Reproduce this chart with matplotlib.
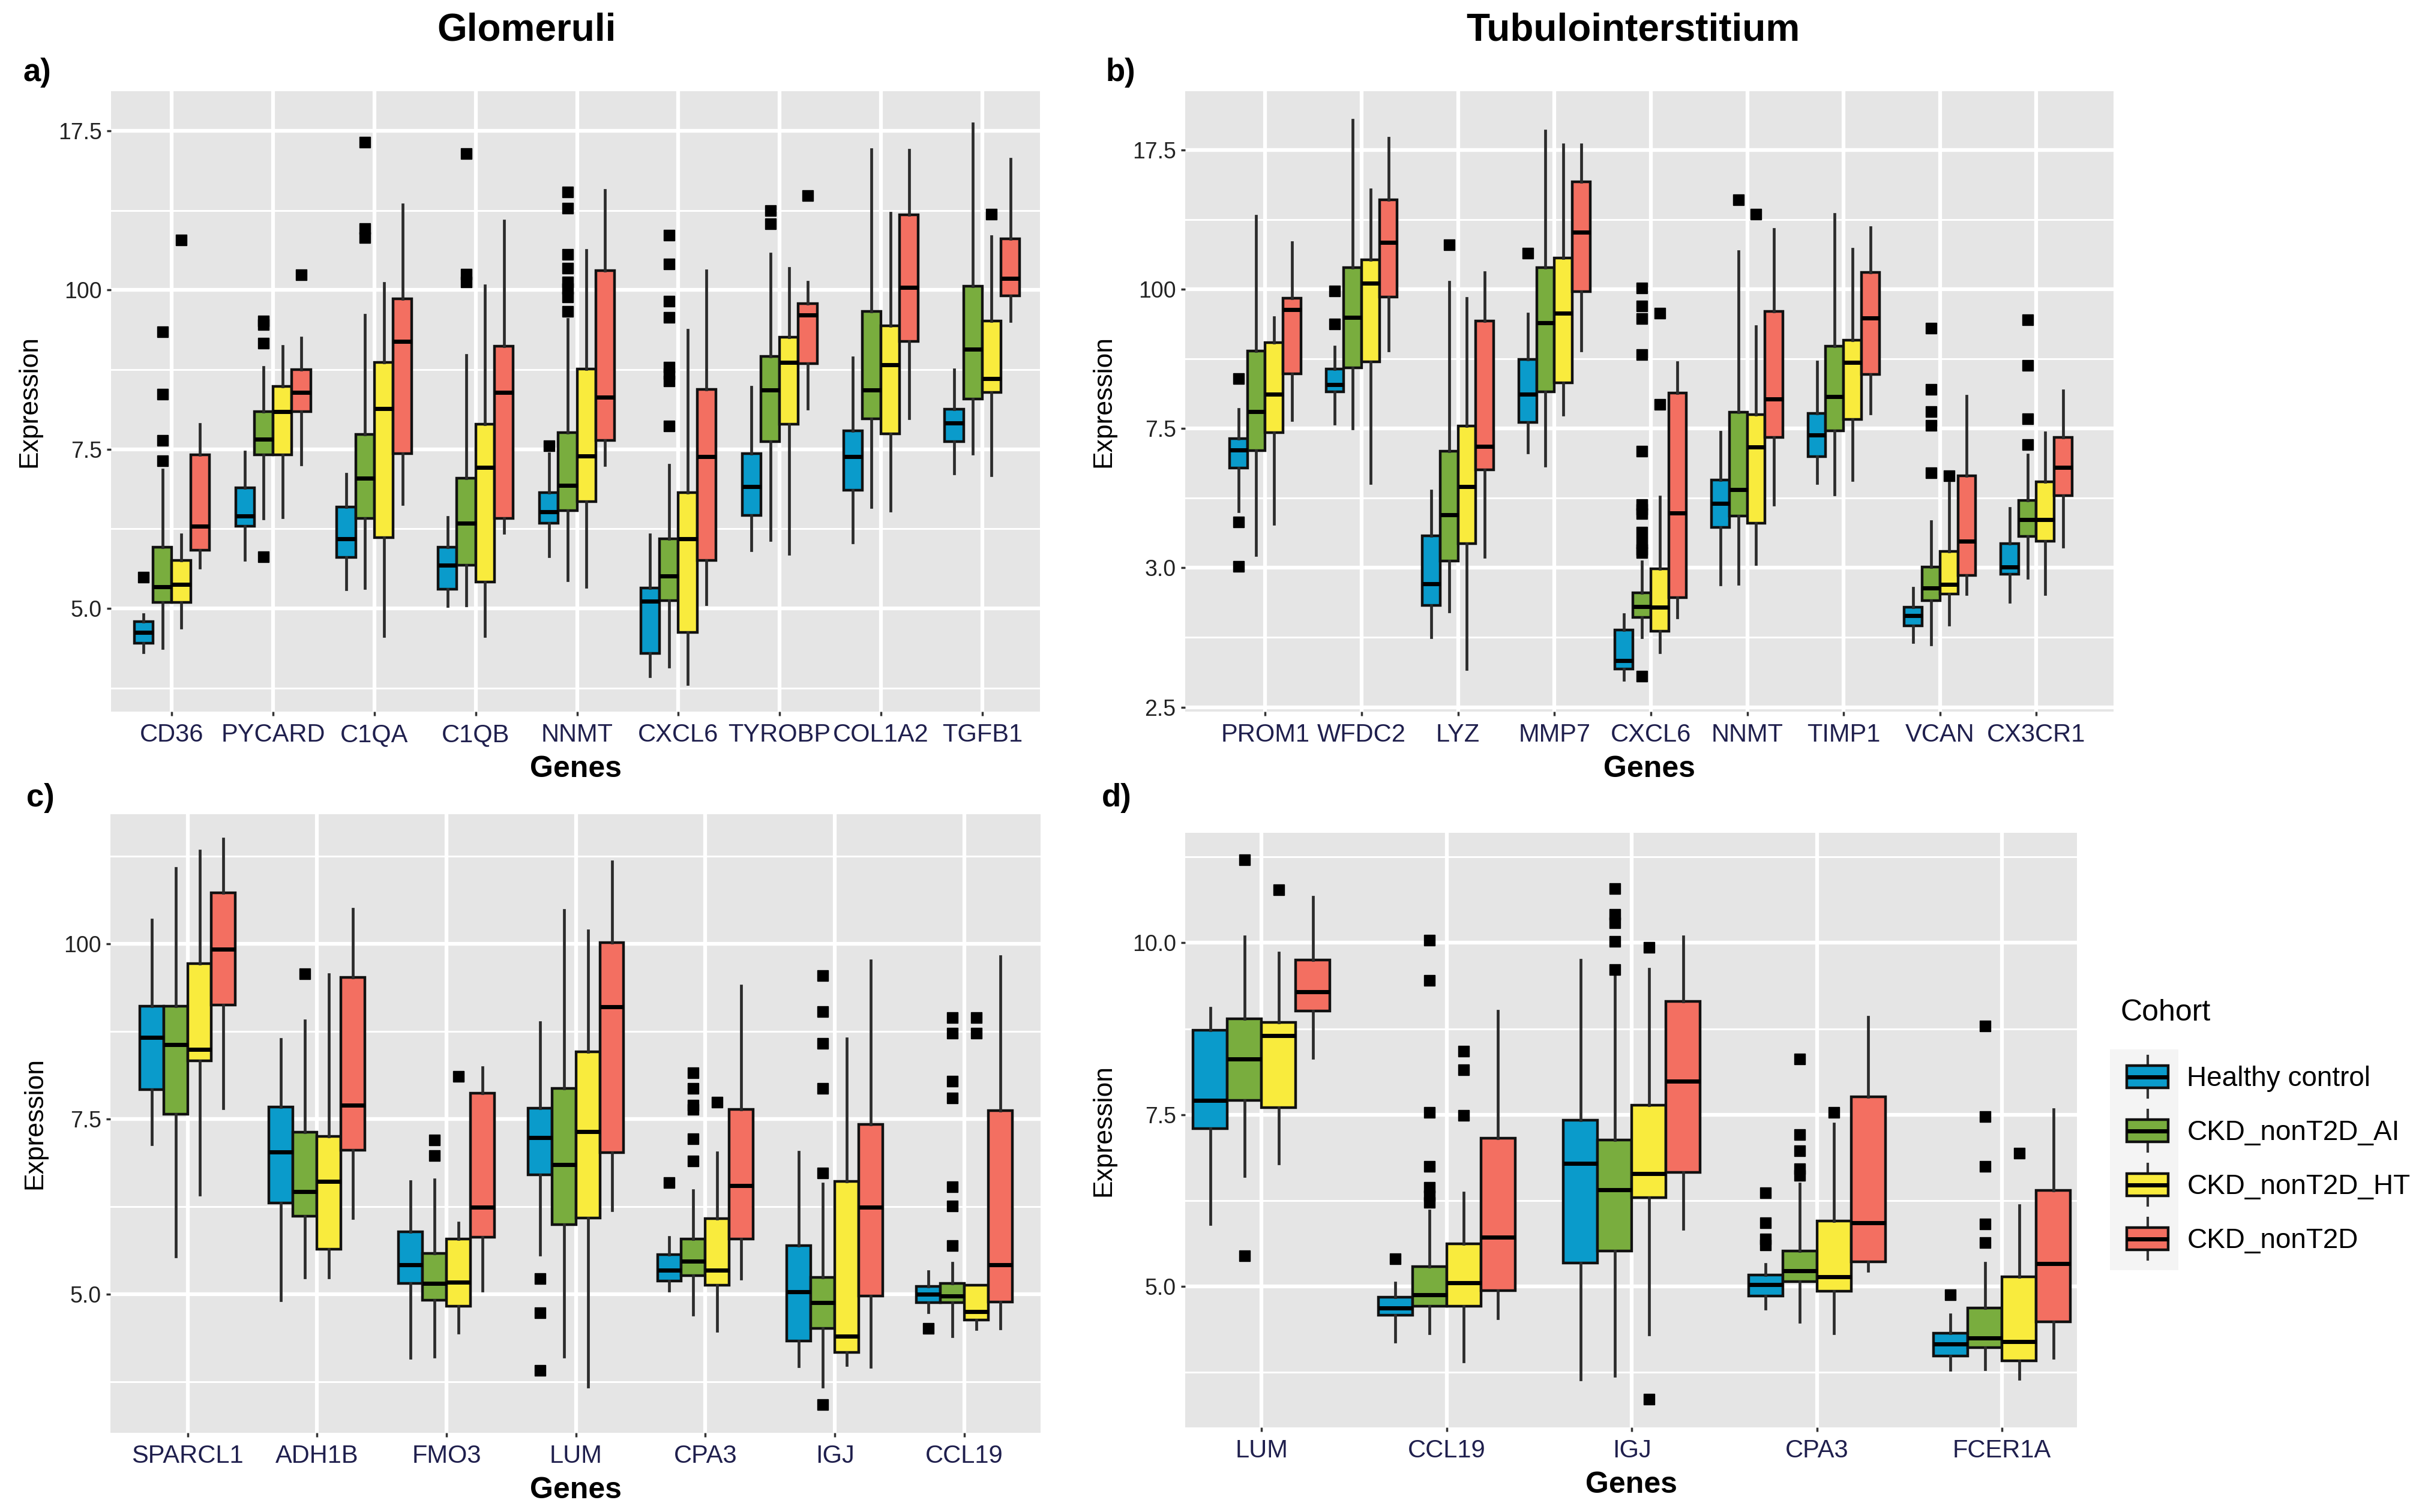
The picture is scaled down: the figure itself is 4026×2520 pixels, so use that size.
import matplotlib
matplotlib.use("Agg")
import matplotlib.pyplot as plt
from matplotlib.patches import Rectangle, Patch
from matplotlib.lines import Line2D
from matplotlib.legend_handler import HandlerBase

plt.rcParams['font.family'] = ['Liberation Sans', 'DejaVu Sans']

# ---------------- data ----------------
COHORTS = ["Healthy control", "CKD_nonT2D_AI", "CKD_nonT2D_HT", "CKD_nonT2D"]
COLORS = ["#0A9BCB", "#79AD3E", "#F9EB3D", "#F36F61"]

# each tuple: (whisker low, Q1, median, Q3, whisker high)
# ---- panel a: Glomeruli ----
A_GENES = ["CD36", "PYCARD", "C1QA", "C1QB", "NNMT", "CXCL6", "TYROBP", "COL1A2", "TGFB1"]
A_HEALTHY = [(4.31, 4.45, 4.62, 4.79, 4.91), (5.76, 6.29, 6.45, 6.89, 7.46), (5.30, 5.80, 6.09, 6.59, 7.11),
             (5.04, 5.30, 5.68, 5.96, 6.43), (5.82, 6.34, 6.52, 6.82, 7.43), (3.94, 4.29, 5.11, 5.32, 6.16),
             (5.91, 6.46, 6.91, 7.43, 8.48), (6.04, 6.86, 7.38, 7.79, 8.94), (7.12, 7.62, 7.91, 8.13, 8.75)]
A_AI = [(4.38, 5.09, 5.34, 5.96, 7.18), (6.41, 7.41, 7.66, 8.09, 8.79), (5.32, 6.41, 7.04, 7.73, 9.61),
        (5.05, 5.68, 6.34, 7.04, 8.98), (5.44, 6.54, 6.93, 7.76, 9.54), (4.09, 5.12, 5.51, 6.09, 7.25),
        (6.07, 7.62, 8.43, 8.96, 10.57), (6.59, 7.98, 8.43, 9.66, 12.21), (7.43, 8.29, 9.07, 10.06, 12.61)]
A_HT = [(4.70, 5.09, 5.38, 5.75, 6.16), (6.43, 7.41, 8.09, 8.49, 9.12), (4.57, 6.11, 8.14, 8.86, 10.11),
        (4.57, 5.41, 7.21, 7.89, 10.07), (5.34, 6.68, 7.39, 8.76, 10.62), (3.81, 4.62, 6.09, 6.82, 9.37),
        (5.86, 7.89, 8.86, 9.26, 10.34), (6.54, 7.74, 8.82, 9.44, 11.21), (7.09, 8.39, 8.61, 9.51, 10.84)]
A_NONT2D = [(5.64, 5.91, 6.29, 7.41, 7.89), (7.26, 8.09, 8.39, 8.75, 9.25), (6.64, 7.43, 9.19, 9.86, 11.34),
            (6.19, 6.41, 8.39, 9.12, 11.09), (7.25, 7.64, 8.32, 10.30, 11.57), (5.07, 5.75, 7.38, 8.44, 10.30),
            (8.14, 8.84, 9.61, 9.79, 10.12), (7.99, 9.19, 10.04, 11.18, 12.20), (9.51, 9.91, 10.18, 10.80, 12.06)]
A_HEALTHY_OUT = [[5.49], [], [], [], [7.55], [], [], [], []]
A_AI_OUT = [[7.32, 7.64, 8.36, 9.34], [5.81, 9.16, 9.46, 9.51], [10.82, 10.96, 12.32], [10.12, 10.25, 12.14],
            [9.66, 9.89, 10.02, 10.12, 10.34, 10.56, 11.28, 11.54],
            [7.86, 8.57, 8.68, 8.79, 9.57, 9.82, 10.41, 10.86], [11.04, 11.25], [], []]
A_HT_OUT = [[10.78], [], [], [], [], [], [], [], [11.19]]
A_NONT2D_OUT = [[], [10.24], [], [], [], [], [11.48], [], []]
A_YTICKS = [5.0, 7.5, 10.0, 12.5]
A_YTICKLABELS = ["5.0", "7.5", "100", "17.5"]

# ---- panel b: Tubulointerstitium ----
B_GENES = ["PROM1", "WFDC2", "LYZ", "MMP7", "CXCL6", "NNMT", "TIMP1", "VCAN", "CX3CR1"]
B_HEALTHY = [(6.01, 6.79, 7.11, 7.32, 7.85), (7.59, 8.16, 8.29, 8.57, 8.96), (3.75, 4.33, 4.71, 5.57, 6.38),
             (7.07, 7.61, 8.11, 8.74, 9.56), (2.99, 3.18, 3.34, 3.88, 4.16), (4.70, 5.72, 6.16, 6.57, 7.44),
             (6.52, 6.99, 7.38, 7.77, 8.70), (3.67, 3.96, 4.14, 4.29, 4.64), (4.39, 4.88, 5.01, 5.43, 6.07)]
B_AI = [(5.23, 7.10, 7.80, 8.89, 11.31), (7.50, 8.59, 9.49, 10.39, 13.03), (4.22, 5.12, 5.95, 7.09, 10.13),
        (6.83, 8.16, 9.39, 10.39, 12.84), (3.75, 4.11, 4.30, 4.55, 5.11), (4.71, 5.93, 6.40, 7.79, 10.68),
        (6.32, 7.46, 8.07, 8.98, 11.34), (3.63, 4.41, 4.64, 5.01, 5.83), (4.82, 5.56, 5.86, 6.21, 7.03)]
B_HT = [(5.79, 7.43, 8.11, 9.04, 9.49), (6.52, 8.70, 10.11, 10.52, 11.79), (3.18, 5.43, 6.46, 7.54, 9.84),
        (7.75, 8.32, 9.57, 10.56, 12.59), (3.49, 3.86, 4.29, 4.98, 6.27), (5.07, 5.80, 7.17, 7.75, 9.33),
        (6.57, 7.66, 8.69, 9.08, 10.72), (3.98, 4.53, 4.70, 5.29, 6.52), (4.53, 5.48, 5.86, 6.54, 7.43)]
B_NONT2D = [(7.65, 8.48, 9.63, 9.84, 10.84), (8.90, 9.86, 10.84, 11.60, 12.71), (5.20, 6.76, 7.18, 9.43, 10.30),
            (8.90, 9.96, 11.02, 11.93, 12.59), (4.11, 4.47, 5.98, 8.14, 8.69), (6.13, 7.34, 8.03, 9.60, 11.07),
            (7.77, 8.47, 9.48, 10.30, 11.11), (4.53, 4.86, 5.48, 6.65, 8.08), (5.38, 6.30, 6.80, 7.34, 8.18)]
B_HEALTHY_OUT = [[5.02, 5.82, 8.39], [9.37, 9.97], [], [10.64], [], [], [], [], []]
B_AI_OUT = [[], [], [10.79], [],
            [3.06, 5.27, 5.33, 5.45, 5.64, 5.97, 6.05, 6.13, 7.09, 8.82, 9.47, 9.70, 10.02],
            [11.60], [], [6.70, 7.55, 7.80, 8.20, 9.30], [7.21, 7.67, 8.63, 9.45]]
B_HT_OUT = [[], [], [], [], [7.93, 9.57], [11.34], [], [6.65], []]
B_NONT2D_OUT = [[], [], [], [], [], [], [], [], []]
B_YTICKS = [2.5, 5.0, 7.5, 10.0, 12.5]
B_YTICKLABELS = ["2.5", "3.0", "7.5", "100", "17.5"]

# ---- panel c: Glomeruli ----
C_GENES = ["SPARCL1", "ADH1B", "FMO3", "LUM", "CPA3", "IGJ", "CCL19"]
C_HEALTHY = [(7.14, 7.92, 8.66, 9.11, 10.34), (4.91, 6.30, 7.03, 7.67, 8.64), (4.09, 5.15, 5.42, 5.89, 6.61),
             (5.56, 6.70, 7.23, 7.65, 8.88), (5.05, 5.19, 5.34, 5.56, 5.81), (3.97, 4.33, 5.03, 5.69, 7.03),
             (4.74, 4.88, 5.00, 5.11, 5.32)]
C_AI = [(5.54, 7.57, 8.56, 9.11, 11.08), (5.24, 6.11, 6.46, 7.31, 8.90), (4.11, 4.91, 5.15, 5.58, 6.63),
        (4.11, 5.99, 6.85, 7.94, 10.48), (4.71, 5.26, 5.47, 5.79, 6.48), (3.68, 4.51, 4.88, 5.24, 6.57),
        (4.40, 4.88, 4.97, 5.15, 5.44)]
C_HT = [(6.42, 8.33, 8.49, 9.72, 11.33), (5.24, 5.64, 6.61, 7.25, 9.56), (4.45, 4.83, 5.17, 5.79, 6.02),
        (3.68, 6.09, 7.32, 8.46, 10.19), (4.48, 5.13, 5.34, 6.08, 7.02), (3.99, 4.17, 4.40, 6.61, 8.65),
        (4.50, 4.63, 4.75, 5.13, 5.13)]
C_NONT2D = [(7.65, 9.13, 9.92, 10.73, 11.50), (6.09, 7.05, 7.70, 9.52, 10.50), (5.05, 5.81, 6.24, 7.87, 8.24),
            (6.20, 7.02, 9.10, 10.02, 11.17), (5.22, 5.79, 6.55, 7.64, 9.40), (3.96, 4.97, 6.24, 7.42, 9.76),
            (4.51, 4.89, 5.42, 7.62, 9.82)]
C_HEALTHY_OUT = [[], [], [], [3.91, 4.73, 5.22], [6.59], [], [4.51]]
C_AI_OUT = [[], [9.57], [6.98, 7.20], [], [6.90, 7.22, 7.64, 7.70, 7.94, 8.16],
            [3.42, 6.73, 7.94, 8.58, 9.03, 9.55], [5.69, 6.26, 6.53, 7.80, 8.04, 8.72, 8.95]]
C_HT_OUT = [[], [], [8.11], [], [7.74], [], [8.72, 8.95]]
C_NONT2D_OUT = [[], [], [], [], [], [], []]
C_YTICKS = [5.0, 7.5, 10.0]
C_YTICKLABELS = ["5.0", "7.5", "100"]

# ---- panel d: Tubulointerstitium ----
D_GENES = ["LUM", "CCL19", "IGJ", "CPA3", "FCER1A"]
D_HEALTHY = [(5.91, 7.30, 7.71, 8.73, 9.05), (4.20, 4.58, 4.69, 4.84, 5.05), (3.65, 5.34, 6.79, 7.42, 9.75),
             (4.68, 4.86, 5.03, 5.17, 5.32), (3.79, 3.99, 4.16, 4.32, 4.59)]
D_AI = [(6.61, 7.71, 8.31, 8.89, 10.09), (4.32, 4.71, 4.88, 5.29, 6.10), (3.70, 5.52, 6.41, 7.13, 9.52),
        (4.49, 5.07, 5.23, 5.52, 6.49), (3.80, 4.11, 4.25, 4.69, 5.34)]
D_HT = [(6.79, 7.60, 8.65, 8.84, 9.85), (3.91, 4.71, 5.05, 5.62, 6.36), (4.30, 6.29, 6.64, 7.64, 9.62),
        (4.32, 4.93, 5.14, 5.95, 7.37), (3.66, 3.92, 4.20, 5.14, 6.18)]
D_NONT2D = [(8.33, 9.01, 9.29, 9.75, 10.67), (4.54, 4.94, 5.72, 7.16, 9.01), (5.84, 6.66, 7.99, 9.15, 10.09),
            (5.23, 5.36, 5.93, 7.76, 8.92), (3.96, 4.49, 5.33, 6.40, 7.58)]
D_HEALTHY_OUT = [[], [5.40], [], [5.60, 5.69, 5.93, 6.36], [4.88]]
D_AI_OUT = [[5.45, 11.21], [6.22, 6.32, 6.44, 6.75, 7.53, 9.45, 10.04], [9.61, 10.02, 10.29, 10.41, 10.79],
            [6.62, 6.71, 6.97, 7.21, 8.31], [5.64, 5.91, 6.75, 7.47, 8.79]]
D_HT_OUT = [[10.77], [7.49, 8.15, 8.42], [3.36, 9.93], [7.53], [6.94]]
D_NONT2D_OUT = [[], [], [], [], []]
D_YTICKS = [5.0, 7.5, 10.0]
D_YTICKLABELS = ["5.0", "7.5", "10.0"]

TITLES = ["Glomeruli", "Tubulointerstitium"]
PANEL_LETTERS = ["a)", "b)", "c)", "d)"]
LEGEND_TITLE = "Cohort"

# ---------------- drawing ----------------
W, H = 4026, 2520
fig = plt.figure(figsize=(W / 100, H / 100), dpi=100)


def fx(px):
    return px / W


def fy(py):
    return 1 - py / H


def make_ax(left, top, right, bottom):
    return fig.add_axes([fx(left), fy(bottom), (right - left) / W, (bottom - top) / H])


def draw_panel(ax, genes, stats, outs, xlim, ylim, yticks, yticklabels, group_width=0.74):
    n = len(genes)
    k = len(stats)
    bw = group_width / k
    for j in range(k):
        off = -group_width / 2 + bw * (j + 0.5)
        bx = []
        for i in range(n):
            lo, q1, med, q3, hi = stats[j][i]
            bx.append(dict(whislo=lo, q1=q1, med=med, q3=q3, whishi=hi, fliers=outs[j][i]))
        ax.bxp(bx, positions=[i + 1 + off for i in range(n)], widths=bw, patch_artist=True,
               showcaps=False, manage_ticks=False,
               boxprops=dict(facecolor=COLORS[j], edgecolor='#111111', linewidth=3.2),
               whiskerprops=dict(color='#2b2b2b', linewidth=3.4),
               medianprops=dict(color='black', linewidth=5, solid_capstyle='butt'),
               flierprops=dict(marker='s', markerfacecolor='black', markeredgecolor='black',
                               markersize=13.5, linestyle='none'))
    ax.set_xticks(range(1, n + 1))
    ax.set_xticklabels(genes, fontsize=30, color='#1f1f4d')
    ax.set_yticks(yticks)
    ax.set_yticklabels(yticklabels, fontsize=27, color='#222222')
    ax.set_yticks([t - 1.25 for t in yticks] + [yticks[-1] + 1.25], minor=True)
    ax.set_xlim(*xlim)
    ax.set_ylim(*ylim)
    ax.set_facecolor('#E5E5E5')
    ax.grid(which='major', color='white', linewidth=4.5)
    ax.grid(which='minor', axis='y', color='white', linewidth=2.2)
    ax.set_axisbelow(True)
    for s in ax.spines.values():
        s.set_visible(False)
    ax.tick_params(which='minor', length=0)
    ax.tick_params(which='major', length=5, width=2.5, color='#333333')
    ax.tick_params(axis='x', pad=9)
    ax.tick_params(axis='y', pad=6)
    ax.set_xlabel("Genes", fontsize=36, fontweight='bold', labelpad=10)
    ax.set_ylabel("Expression", fontsize=32, labelpad=20)


ax_a = make_ax(185, 152, 1733, 1186)
draw_panel(ax_a, A_GENES, [A_HEALTHY, A_AI, A_HT, A_NONT2D],
           [A_HEALTHY_OUT, A_AI_OUT, A_HT_OUT, A_NONT2D_OUT], (0.4, 9.57), (3.38, 13.12),
           A_YTICKS, A_YTICKLABELS)

ax_b = make_ax(1975, 152, 3522, 1186)
draw_panel(ax_b, B_GENES, [B_HEALTHY, B_AI, B_HT, B_NONT2D],
           [B_HEALTHY_OUT, B_AI_OUT, B_HT_OUT, B_NONT2D_OUT], (0.17, 9.8), (2.42, 13.55),
           B_YTICKS, B_YTICKLABELS)

ax_c = make_ax(184, 1357, 1734, 2388)
draw_panel(ax_c, C_GENES, [C_HEALTHY, C_AI, C_HT, C_NONT2D],
           [C_HEALTHY_OUT, C_AI_OUT, C_HT_OUT, C_NONT2D_OUT], (0.404, 7.59), (3.02, 11.85),
           C_YTICKS, C_YTICKLABELS)

ax_d = make_ax(1975, 1388, 3461, 2379)
draw_panel(ax_d, D_GENES, [D_HEALTHY, D_AI, D_HT, D_NONT2D],
           [D_HEALTHY_OUT, D_AI_OUT, D_HT_OUT, D_NONT2D_OUT], (0.587, 5.405), (2.95, 11.60),
           D_YTICKS, D_YTICKLABELS)

# titles and panel letters
fig.text(fx(878), fy(51), TITLES[0], ha='center', va='center', fontsize=46, fontweight='bold')
fig.text(fx(2721), fy(51), TITLES[1], ha='center', va='center', fontsize=46, fontweight='bold')
for lab, (px, py) in zip(PANEL_LETTERS, [(38, 121), (1843, 121), (44, 1330), (1836, 1330)]):
    fig.text(fx(px), fy(py), lab, ha='left', va='center', fontsize=38, fontweight='bold')


# legend with boxplot-style keys
class BoxKeyHandler(HandlerBase):
    def create_artists(self, legend, orig_handle, xdescent, ydescent, width, height, fontsize, trans):
        x0, y0 = -xdescent, -ydescent
        cx = x0 + width / 2
        wl = Line2D([cx, cx], [y0 - height * 0.45, y0 + height * 1.45], color='#333333', lw=3,
                    transform=trans)
        box = Rectangle((x0, y0), width, height, facecolor=orig_handle.get_facecolor(),
                        edgecolor='#111111', lw=3.2, transform=trans)
        med = Line2D([x0, x0 + width], [y0 + height / 2] * 2, color='black', lw=5, transform=trans,
                     solid_capstyle='butt')
        return [wl, box, med]


fig.patches.append(Rectangle((fx(3516), fy(2117)), 114 / W, 368 / H, facecolor='#F4F4F4',
                             edgecolor='none', transform=fig.transFigure, zorder=0))
fig.text(fx(3533), fy(1688), LEGEND_TITLE, ha='left', va='center', fontsize=36)
handles = [Patch(facecolor=c, edgecolor='black') for c in COLORS]
leg = fig.legend(handles, COHORTS, loc='upper left', bbox_to_anchor=(fx(3526), fy(1758)),
                 frameon=False, fontsize=33, handler_map={Patch: BoxKeyHandler()},
                 handlelength=1.5, handleheight=0.85, labelspacing=1.0, handletextpad=0.68,
                 borderaxespad=0)

fig.savefig("out.png", dpi=100)
